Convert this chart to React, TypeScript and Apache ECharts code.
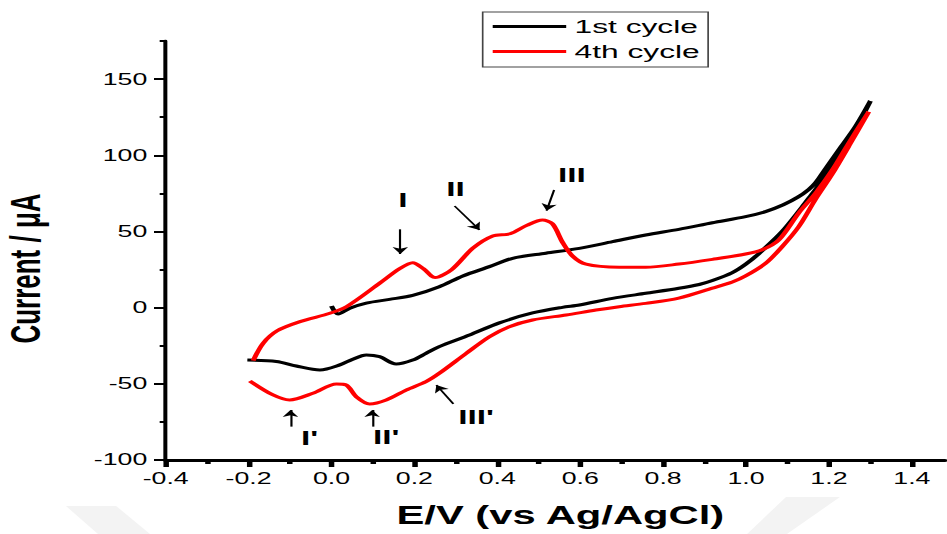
import { useEffect, useRef } from 'react';
import * as echarts from 'echarts';

// ---- data ----
const xMajorTicks = [-0.4, -0.2, 0, 0.2, 0.4, 0.6, 0.8, 1.0, 1.2, 1.4];
const xMinorTicks = [-0.3, -0.1, 0.1, 0.3, 0.5, 0.7, 0.9, 1.1, 1.3];
const yMajorTicks = [-100, -50, 0, 50, 100, 150];
const yMinorTicks = [-75, -25, 25, 75, 125, 175];
const seriesNames = ['1st cycle', '4th cycle'];

// 1st cycle: forward (anodic) then reverse (cathodic) scan
const cycle1Forward = [
  [0.0, 1.1], [0.016, -4.2], [0.044, -0.4], [0.084, 3.0], [0.140, 5.4], [0.196, 8.0],
  [0.260, 13.7], [0.317, 20.8], [0.381, 26.9], [0.437, 32.4], [0.517, 35.7], [0.598, 38.9],
  [0.678, 43.3], [0.758, 47.7], [0.838, 51.4], [0.919, 55.7], [0.999, 59.7], [1.047, 63.0],
  [1.090, 67.5], [1.125, 72.5], [1.151, 77.5], [1.168, 82.0], [1.190, 90.5], [1.224, 103.5],
  [1.264, 118.8], [1.300, 135.6],
];
const cycle1Reverse = [
  [1.300, 135.6], [1.264, 117.0], [1.224, 100.0], [1.183, 83.0], [1.159, 74.5], [1.135, 66.0],
  [1.087, 50.0], [1.031, 35.5], [0.999, 28.5], [0.967, 23.0], [0.919, 17.8], [0.887, 15.2],
  [0.838, 12.7], [0.758, 9.4], [0.678, 6.1], [0.598, 1.7], [0.557, 0.2], [0.485, -3.5],
  [0.405, -10.0], [0.333, -18.0], [0.260, -25.6], [0.228, -30.0], [0.196, -34.4], [0.156, -37.0],
  [0.116, -32.2], [0.084, -31.1], [0.050, -34.0], [0.020, -37.6], [-0.028, -40.9], [-0.085, -38.3],
  [-0.133, -35.3], [-0.203, -34.4],
];

// 4th cycle: forward (anodic) then reverse (cathodic) scan
const cycle4Forward = [
  [-0.189, -34.8], [-0.165, -23.4], [-0.131, -15.2], [-0.076, -9.2], [-0.004, -3.7], [0.036, 0.6],
  [0.116, 16.0], [0.164, 25.5], [0.196, 29.5], [0.222, 25.5], [0.250, 19.7], [0.290, 25.0],
  [0.341, 39.0], [0.389, 47.0], [0.431, 48.5], [0.471, 54.0], [0.509, 57.5], [0.533, 55.0],
  [0.557, 43.0], [0.581, 34.0], [0.614, 28.5], [0.694, 26.5], [0.758, 26.5], [0.838, 28.6],
  [0.919, 31.7], [0.999, 35.2], [1.039, 38.0], [1.079, 44.4], [1.127, 62.1], [1.168, 75.2],
  [1.208, 90.3], [1.248, 108.1], [1.296, 128.6],
];
const cycle4Reverse = [
  [1.296, 128.6], [1.248, 106.0], [1.208, 87.7], [1.168, 71.3], [1.127, 53.1], [1.087, 40.0],
  [1.047, 29.0], [0.999, 20.8], [0.967, 16.8], [0.919, 12.8], [0.838, 6.3], [0.758, 2.8],
  [0.694, 0.6], [0.638, -1.6], [0.566, -4.8], [0.485, -8.1], [0.429, -12.5], [0.381, -19.1],
  [0.325, -30.0], [0.260, -43.1], [0.228, -48.6], [0.180, -54.1], [0.132, -60.6], [0.092, -63.2],
  [0.060, -58.5], [0.036, -50.8], [0.012, -50.1], [-0.045, -56.2], [-0.101, -60.6], [-0.141, -57.3],
  [-0.197, -48.1],
];

const peakLabels = ['I', 'II', 'III', "I'", "II'", "III'"];
const peakLabelPos = [
  [0.172, 70.6], [0.299, 77.7], [0.580, 87.1], [-0.053, -85.8], [0.132, -84.7], [0.349, -71.6],
];
const arrowFrom = [
  [0.166, 51.4], [0.297, 66.7], [0.537, 77.2], [-0.099, -78.1], [0.098, -78.1], [0.294, -63.2],
];
const arrowTo = [
  [0.166, 35.2], [0.357, 51.0], [0.519, 63.6], [-0.099, -67.2], [0.098, -67.2], [0.253, -50.8],
];

// ---- layout (inner frame is stretched horizontally to match the reference) ----
const INNER_W = 567;
const SX = 947 / INNER_W;
const FONT = '"Liberation Sans", Arial, sans-serif';

function buildOption() {
  const minorAxisCommon = {
    axisLine: { show: false, onZero: false },
    axisLabel: { show: false },
    splitLine: { show: false },
  };
  return {
    animation: false,
    backgroundColor: '#ffffff',
    textStyle: { fontFamily: FONT, color: '#000' },
    grid: { left: 99.2, right: 1.2, top: 41, bottom: 74, containLabel: false, outerBoundsMode: 'none' },
    legend: {
      orient: 'vertical',
      left: 289,
      top: 12,
      padding: [5, 5, 6, 6],
      itemGap: 6,
      itemWidth: 44,
      itemHeight: 3,
      borderColor: '#444',
      borderWidth: 1,
      textStyle: { fontSize: 19, color: '#000', fontFamily: FONT },
      data: seriesNames.map((n) => ({ name: n, icon: 'rect' })),
    },
    xAxis: [
      {
        type: 'value',
        min: -0.4,
        max: 1.48,
        name: 'E/V (vs Ag/AgCl)',
        nameLocation: 'middle',
        nameGap: 43,
        nameTextStyle: { fontSize: 25, fontWeight: 'bold', color: '#000', fontFamily: FONT, padding: [0, 0, 0, 6] },
        axisLine: { show: true, onZero: false, lineStyle: { color: '#000', width: 3 } },
        axisTick: { show: true, inside: false, length: 7, lineStyle: { color: '#000', width: 3.3 }, customValues: xMajorTicks },
        axisLabel: {
          show: true, margin: 11, fontSize: 16, color: '#000', fontFamily: FONT,
          customValues: xMajorTicks,
          formatter: (v: number) => v.toFixed(1),
        },
        splitLine: { show: false },
      },
      {
        type: 'value',
        min: -0.4,
        max: 1.48,
        position: 'bottom',
        ...minorAxisCommon,
        axisTick: { show: true, length: 4, lineStyle: { color: '#000', width: 3.3 }, customValues: xMinorTicks },
      },
    ],
    yAxis: [
      {
        type: 'value',
        min: -100,
        max: 175,
        name: 'Current / μA',
        nameLocation: 'middle',
        nameGap: 71,
        nameTextStyle: { fontSize: 26, fontWeight: 'bold', color: '#000', fontFamily: FONT, padding: [0, 36, 0, 0] },
        axisLine: { show: true, onZero: false, lineStyle: { color: '#000', width: 2.4 } },
        axisTick: { show: true, length: 7, lineStyle: { color: '#000', width: 2 }, customValues: yMajorTicks },
        axisLabel: {
          show: true, margin: 11, fontSize: 16, color: '#000', fontFamily: FONT,
          customValues: yMajorTicks,
          formatter: (v: number) => String(v),
        },
        splitLine: { show: false },
      },
      {
        type: 'value',
        min: -100,
        max: 175,
        position: 'left',
        ...minorAxisCommon,
        axisTick: { show: true, length: 3.6, lineStyle: { color: '#000', width: 2 }, customValues: yMinorTicks },
      },
    ],
    graphic: [
      {
        type: 'polygon', z: -10, silent: true,
        shape: { points: [[39.5, 506], [69.5, 506], [89.8, 534], [58.7, 534]] },
        style: { fill: '#f3f3f3' },
      },
      {
        type: 'polygon', z: -10, silent: true,
        shape: { points: [[470.6, 497], [502.9, 497], [471.2, 534], [447.3, 534]] },
        style: { fill: '#f3f3f3' },
      },
    ],
    series: [
      {
        name: seriesNames[0],
        type: 'line',
        data: [...cycle1Forward, ...cycle1Reverse.slice(1)],
        showSymbol: false,
        symbol: 'none',
        smooth: 0.3,
        lineStyle: { color: '#000000', width: 3 },
        itemStyle: { color: '#000000' },
        z: 2,
      },
      {
        name: seriesNames[1],
        type: 'line',
        data: [...cycle4Forward, ...cycle4Reverse.slice(1)],
        showSymbol: false,
        symbol: 'none',
        smooth: 0.3,
        lineStyle: { color: '#ff0000', width: 3 },
        itemStyle: { color: '#ff0000' },
        z: 3,
      },
      {
        name: 'annotations',
        type: 'line',
        data: [],
        silent: true,
        z: 4,
        markLine: {
          silent: true,
          symbol: ['none', 'arrow'],
          symbolSize: 7,
          label: { show: false },
          lineStyle: { color: '#000', width: 1.3, type: 'solid' },
          emphasis: { disabled: true },
          data: arrowFrom.map((s, i) => [{ coord: s }, { coord: arrowTo[i] }]),
        },
        markPoint: {
          silent: true,
          symbol: 'circle',
          symbolSize: 0,
          label: {
            show: true, position: 'inside', formatter: '{b}',
            fontSize: 20, fontWeight: 'bold', color: '#000', fontFamily: FONT,
          },
          itemStyle: { color: 'transparent' },
          data: peakLabels.map((n, i) => ({ name: n, coord: peakLabelPos[i] })),
        },
      },
    ],
  };
}

export default function App() {
  const ref = useRef<HTMLDivElement>(null);
  useEffect(() => {
    if (!ref.current) return;
    const chart = echarts.init(ref.current, null, { renderer: 'svg' });
    chart.setOption(buildOption() as any);
    return () => chart.dispose();
  }, []);
  return (
    <div style={{ position: 'fixed', left: 0, top: 0, width: 947, height: 534, overflow: 'hidden', background: '#fff' }}>
      <div
        ref={ref}
        style={{ width: INNER_W, height: 534, transform: `scaleX(${SX})`, transformOrigin: '0 0' }}
      />
    </div>
  );
}
